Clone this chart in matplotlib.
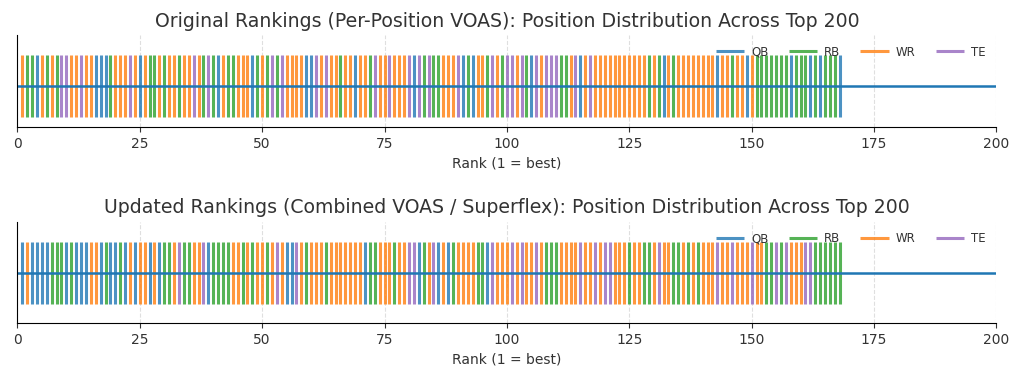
import numpy as np
import matplotlib.pyplot as plt

# position codes per rank (Q=QB, R=RB, W=WR, T=TE)
original = ("WRRQWRWRTT" "WWTWWQQQRW" "WWTWQWRR"
            "WRWWRWWTWR" "TRQWRRWWWQ" "RWRTRTWW"
            "WWQQTWTWWR" "WWQWWRTWWT" "WWWTQTRT"
            "RRWWWTQRQW" "WRTWRTTWTR" "QTWTTTRR"
            "WTQWTWWWWW" "WWWWWWRWRQ" "WRWWWWWW"
            "WWQWWRWWQW" "RRRRRRRQRR" "RQRQRRRQ")
updated = ("QWQQQQRRRQ" "RQQQWWQRQQ" "RQWQWWQW"
           "QRRWTRRWWT" "QRRRRWWRWR" "WWRWTWQQ"
           "TWRWWWRWWW" "WWWWQRRWWW" "RWWTTQRW"
           "TQWQRWWWWR" "RQTWWWTWTW" "WTWRRRWW"
           "WWTWWTWTTW" "WWRWWRRWTW" "WRRWRWRW"
           "WWTWWTWWWT" "WWRRTRTWWW" "TTRRRRRR")

positions = ['QB', 'RB', 'WR', 'TE']
codes = {'Q': 'QB', 'R': 'RB', 'W': 'WR', 'T': 'TE'}
colors = {'QB': '#1f77b4', 'RB': '#2ca02c', 'WR': '#ff7f0e', 'TE': '#9467bd'}

titles = ['Original Rankings (Per-Position VOAS): Position Distribution Across Top 200',
          'Updated Rankings (Combined VOAS / Superflex): Position Distribution Across Top 200']

fig = plt.figure(figsize=(10.24, 3.75), dpi=100)
axes = [fig.add_axes([0.017, 0.661, 0.956, 0.246]),
        fig.add_axes([0.017, 0.139, 0.956, 0.27])]
ylims = [(-0.66, 0.82), (-0.8, 0.82)]

for ax, seq, title, yl in zip(axes, [original, updated], titles, ylims):
    ranks = np.arange(1, len(seq) + 1)
    labels = np.array([codes[c] for c in seq])
    for pos in positions:
        x = ranks[labels == pos]
        ax.vlines(x, -0.5, 0.5, color=colors[pos], linewidth=2.2, alpha=0.8, label=pos)
    ax.plot([0, 200], [0, 0], color='#1f77b4', linewidth=1.8)
    ax.set_xlim(0, 200)
    ax.set_ylim(*yl)
    ax.set_yticks([])
    ax.set_xticks(np.arange(0, 201, 25))
    ax.tick_params(axis='x', labelsize=10, colors='#333333')
    ax.grid(axis='x', linestyle='--', alpha=0.4)
    ax.spines['top'].set_visible(False)
    ax.spines['right'].set_visible(False)
    ax.set_xlabel('Rank (1 = best)', fontsize=10, color='#333333')
    ax.set_title(title, fontsize=13.6, color='#333333')
    ax.legend(loc='upper right', ncol=4, frameon=False, fontsize=8.5,
              handlelength=2.4, columnspacing=1.7, handletextpad=0.6,
              labelcolor='#333333')

fig.savefig('out.png')
